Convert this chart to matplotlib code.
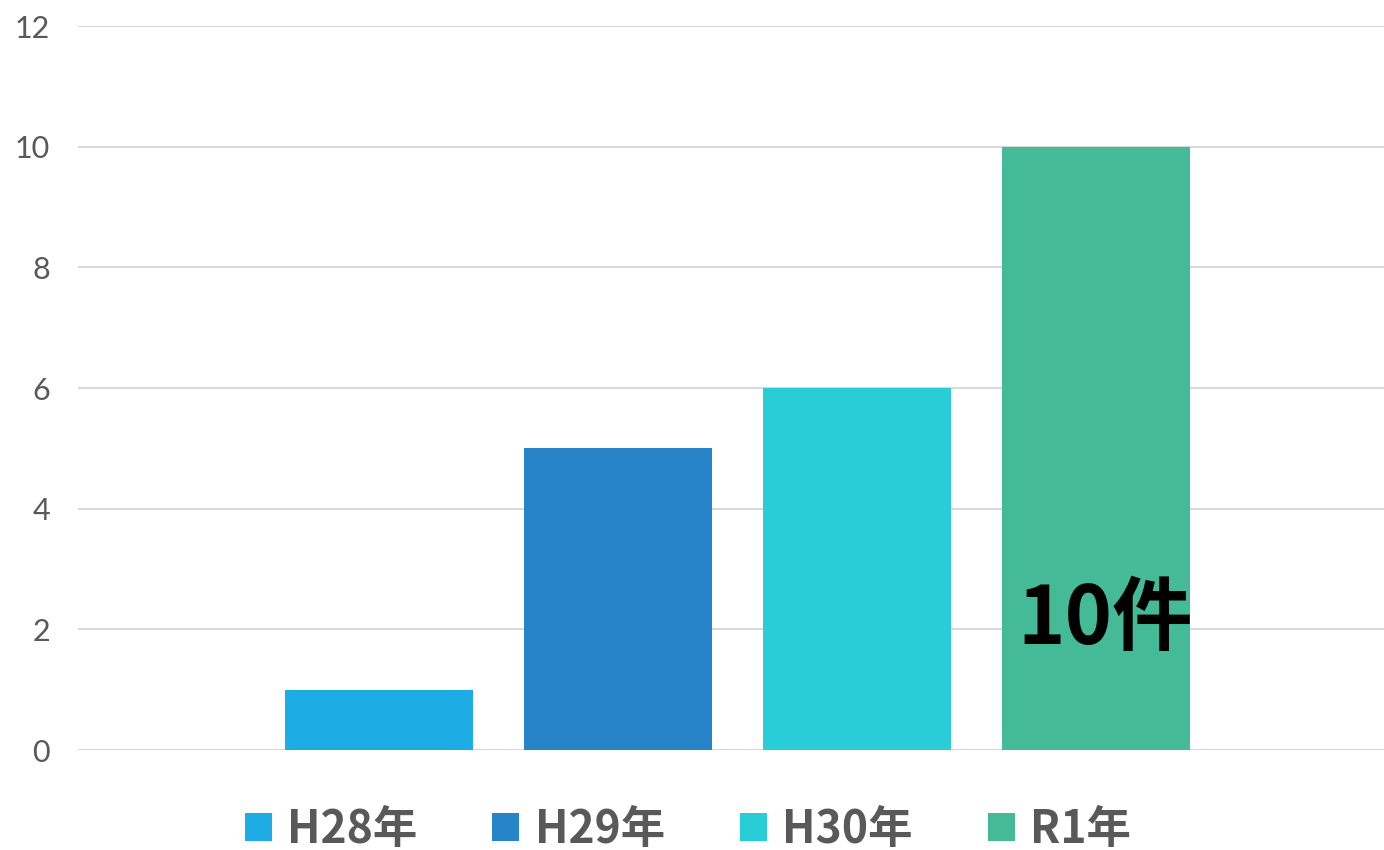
import matplotlib.pyplot as plt
from matplotlib.patches import Patch

years = ['H28年', 'H29年', 'H30年', 'R1年']
counts = [1, 5, 6, 10]
colors = ['#1DACE3', '#2884C8', '#29CDD7', '#44BA97']
label_text = '10件'

plt.rcParams['font.family'] = ['Noto Sans CJK JP', 'DejaVu Sans']

fig = plt.figure(figsize=(13.84, 8.5), dpi=100)
ax = fig.add_axes([78 / 1384, 100 / 850, 1306 / 1384, 724 / 850])

pos = range(len(years))
ax.bar(pos, counts, width=0.787, color=colors, zorder=3)

ax.set_xlim(-1.259, 4.205)
ax.set_ylim(0, 12)
ax.set_yticks(range(0, 13, 2))
ax.set_xticks([])
ax.grid(axis='y', color='#D9D9D9', linewidth=1.5, zorder=0)
for s in ax.spines.values():
    s.set_visible(False)
ax.tick_params(axis='y', length=0, pad=20, labelsize=22, labelcolor='#595959')
for lab in ax.get_yticklabels():
    lab.set_fontfamily(['Lato', 'DejaVu Sans'])
    lab.set_fontweight('normal')

# data label inside the last bar
ax.text(3.04, 2.15, label_text, ha='center', va='center', fontsize=58,
        fontweight='bold', color='black', zorder=4)

handles = [Patch(facecolor=c, edgecolor='none') for c in colors]
leg = fig.legend(handles, years, loc='center', bbox_to_anchor=(0.497, 0.024),
                 ncol=4, frameon=False, handlelength=0.61,
                 handleheight=0.61, handletextpad=0.34, columnspacing=1.69,
                 prop={'weight': 'bold', 'size': 32})
for t in leg.get_texts():
    t.set_color('#595959')

fig.savefig('out.png', dpi=100, facecolor='white')
